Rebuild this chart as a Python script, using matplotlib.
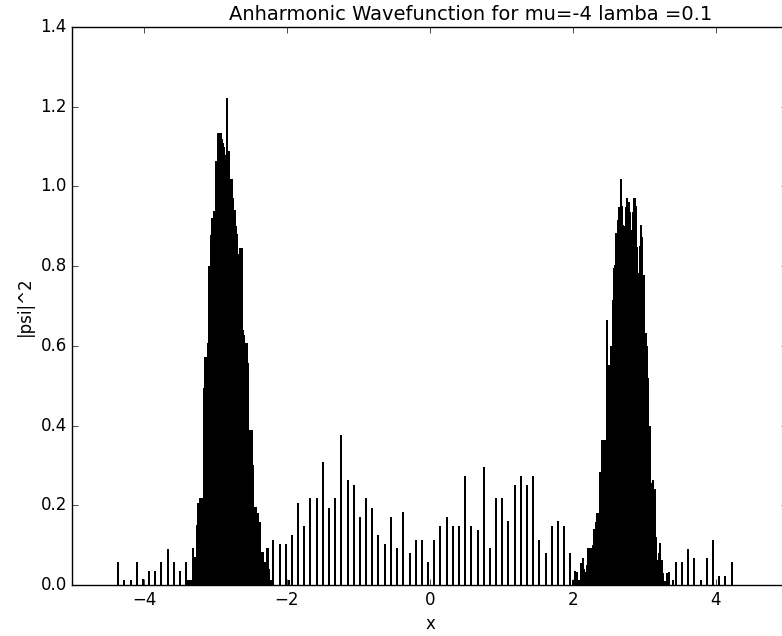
import matplotlib
matplotlib.use('Agg')
import matplotlib.pyplot as plt

# isolated histogram bins (x position, |psi|^2)
sparse_x = [-4.364, -4.276, -4.186, -4.102, -4.018, -3.930, -3.846, -3.758, -3.669, -3.585, -3.497, -3.408,
            -2.200, -2.098, -2.018, -1.972, -1.930, -1.846, -1.762, -1.674, -1.585, -1.501, -1.413, -1.329,
            -1.241, -1.151, -1.067, -0.979, -0.895, -0.807, -0.723, -0.634, -0.545, -0.457, -0.373, -0.284,
            -0.196, -0.112, -0.024, 0.060, 0.144, 0.234, 0.317, 0.406, 0.490, 0.578, 0.667, 0.751,
            0.839, 0.923, 1.007, 1.095, 1.185, 1.273, 1.357, 1.445, 1.529, 1.618, 1.706, 1.790,
            1.878, 1.962,
            3.347, 3.403, 3.441, 3.520, 3.604, 3.697, 3.786, 3.870, 3.958, 4.042, 4.126, 4.220]
sparse_h = [0.057, 0.012, 0.012, 0.057, 0.015, 0.034, 0.034, 0.057, 0.091, 0.057, 0.034, 0.057,
            0.114, 0.103, 0.103, 0.012, 0.126, 0.206, 0.149, 0.217, 0.217, 0.309, 0.194, 0.217,
            0.377, 0.263, 0.251, 0.171, 0.217, 0.194, 0.126, 0.103, 0.171, 0.092, 0.183, 0.080,
            0.114, 0.114, 0.058, 0.114, 0.149, 0.171, 0.149, 0.149, 0.273, 0.149, 0.137, 0.297,
            0.092, 0.217, 0.217, 0.160, 0.251, 0.273, 0.251, 0.273, 0.114, 0.080, 0.149, 0.160,
            0.149, 0.080,
            0.033, 0.012, 0.057, 0.057, 0.091, 0.068, 0.012, 0.068, 0.114, 0.023, 0.023, 0.057]

# left well peak
left_x = [-3.392, -3.371, -3.343, -3.319, -3.301, -3.280, -3.259, -3.241, -3.217, -3.196, -3.175, -3.161,
          -3.140, -3.119, -3.101, -3.084, -3.063, -3.042, -3.025, -3.007, -2.993, -2.969, -2.951, -2.930,
          -2.913, -2.895, -2.877, -2.860, -2.839, -2.818, -2.797, -2.776, -2.755, -2.734, -2.713, -2.699,
          -2.681, -2.667, -2.650, -2.634, -2.620, -2.601, -2.580, -2.564, -2.552, -2.541, -2.524, -2.503,
          -2.483, -2.469, -2.448, -2.427, -2.406, -2.378, -2.364, -2.343, -2.329, -2.308, -2.287, -2.273,
          -2.252, -2.224]
left_h = [0.012, 0.012, 0.012, 0.092, 0.071, 0.071, 0.150, 0.205, 0.217, 0.217, 0.217, 0.493,
          0.573, 0.573, 0.606, 0.800, 0.878, 0.920, 0.938, 0.900, 1.064, 1.133, 1.133, 1.133,
          1.120, 1.109, 1.100, 1.080, 1.223, 1.090, 0.995, 1.018, 0.971, 0.940, 0.900, 0.880,
          0.830, 0.778, 0.846, 0.846, 0.640, 0.627, 0.607, 0.607, 0.557, 0.334, 0.389, 0.389,
          0.389, 0.300, 0.196, 0.196, 0.180, 0.159, 0.058, 0.083, 0.083, 0.058, 0.012, 0.092,
          0.040, 0.012]

# right well peak
right_x = [2.004, 2.028, 2.052, 2.074, 2.098, 2.119, 2.136, 2.154, 2.175, 2.196, 2.217, 2.238,
           2.259, 2.280, 2.301, 2.322, 2.343, 2.364, 2.385, 2.406, 2.427, 2.448, 2.462, 2.480,
           2.499, 2.517, 2.536, 2.555, 2.569, 2.580, 2.594, 2.608, 2.622, 2.636, 2.650, 2.667,
           2.681, 2.695, 2.713, 2.727, 2.741, 2.762, 2.783, 2.801, 2.821, 2.839, 2.860, 2.881,
           2.899, 2.916, 2.933, 2.951, 2.969, 2.986, 3.000, 3.017, 3.035, 3.053, 3.070, 3.087,
           3.105, 3.123, 3.147, 3.165, 3.182, 3.203, 3.221, 3.241, 3.259, 3.280, 3.310]
right_h = [0.012, 0.035, 0.033, 0.012, 0.012, 0.055, 0.067, 0.040, 0.033, 0.050, 0.092, 0.092,
           0.092, 0.100, 0.140, 0.159, 0.180, 0.117, 0.284, 0.364, 0.364, 0.364, 0.360, 0.665,
           0.552, 0.540, 0.600, 0.715, 0.750, 0.795, 0.803, 0.882, 0.866, 0.916, 0.948, 1.018,
           0.950, 0.903, 0.849, 0.900, 0.949, 0.970, 0.960, 0.937, 0.890, 0.937, 0.970, 0.950,
           0.849, 0.782, 0.850, 0.903, 0.874, 0.778, 0.560, 0.631, 0.600, 0.519, 0.400, 0.255,
           0.255, 0.263, 0.240, 0.120, 0.063, 0.080, 0.105, 0.063, 0.030, 0.010, 0.030]

plt.style.use('classic')
fig = plt.figure(figsize=(7.82, 6.36), dpi=100, facecolor='white')
ax = fig.add_axes([0.0927, 0.0802, 0.9143, 0.8774])

ax.bar(sparse_x, sparse_h, width=0.026, color='black', linewidth=0)
ax.bar(left_x, left_h, width=0.029, color='black', linewidth=0)
ax.bar(right_x, right_h, width=0.029, color='black', linewidth=0)

ax.set_xlim(-5, 5)
ax.set_ylim(0, 1.4)
ax.set_xticks([-4, -2, 0, 2, 4])
ax.set_yticks([0.0, 0.2, 0.4, 0.6, 0.8, 1.0, 1.2, 1.4])
ax.set_title('Anharmonic Wavefunction for mu=-4 lamba =0.1', fontsize=14, x=0.557)
ax.set_xlabel('x')
ax.set_ylabel('|psi|^2')

fig.savefig('out.png', dpi=100, facecolor='white')
